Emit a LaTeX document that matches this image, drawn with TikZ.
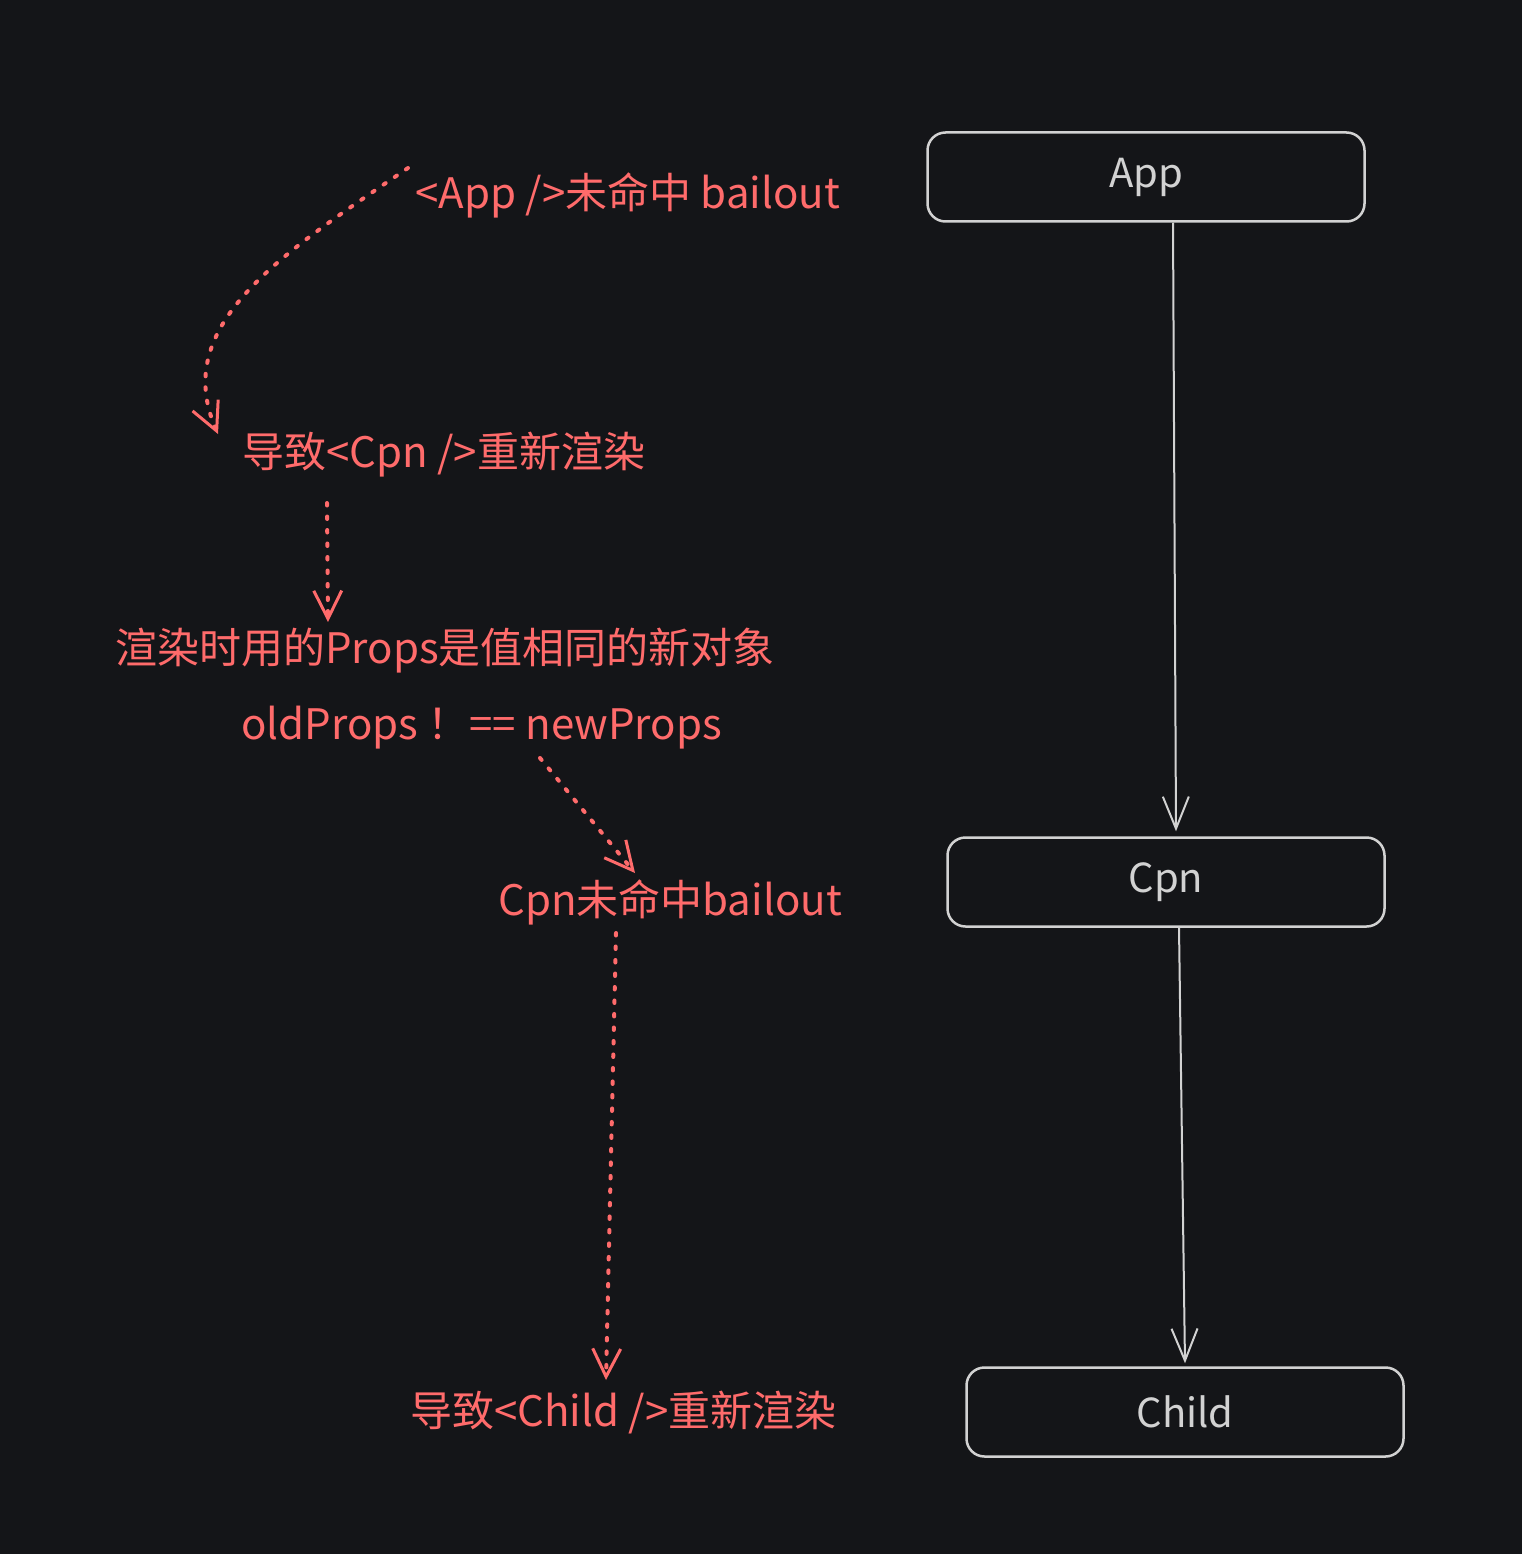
\documentclass[tikz,border=0pt]{standalone}
\usepackage{fontspec}
\setmainfont{Noto Sans CJK SC}
\usetikzlibrary{
    positioning,
    calc,
    arrows.meta
}
\definecolor{bgdark}{HTML}{141518}
\definecolor{notered}{HTML}{FF6B6B}
\definecolor{boxline}{HTML}{D2D2D2}
\tikzset{
  block/.style = {
      draw=boxline,
      line width=2.5pt,
      rounded corners=18pt,
      minimum width=437pt,
      minimum height=89pt,
      text=boxline,
      font=\fontsize{40}{46}\selectfont
  },
  note/.style = {
      text=notered,
      inner sep=0pt,
      anchor=west,
      font=\fontsize{42}{48}\selectfont
  },
  link/.style = {
      draw=boxline,
      line width=2pt,
      -{Straight Barb[length=32pt,width=26pt,line width=2pt]}
  },
  hint/.style = {
      draw=notered,
      line width=4pt,
      line cap=round,
      dash pattern=on 2.5pt off 11pt,
      -{Straight Barb[length=28pt,width=28pt,line width=3pt]}
  }
}
\begin{document}
\begin{tikzpicture}[x=1pt,y=-1pt]
    \fill[bgdark] (0,0) rectangle (1522,1554);
    \useasboundingbox (0,0) rectangle (1522,1554);
    % Tree
    \node[block] (App) at (1146,177) {App};
    \node[block] (Cpn) at (1166,882) {Cpn};
    \node[block] (Child) at (1185,1412) {Child};
    \draw[link] ([xshift=27pt]App.south) -- ([xshift=10pt,yshift=5pt]Cpn.north);
    \draw[link] ([xshift=13pt]Cpn.south) -- ([yshift=3pt]Child.north);
    % Notes
    \node[note] (appmiss) at (415,195) {<App />未命中 bailout};
    \node[note] (cpnrender) at (242,455) {导致<Cpn />重新渲染};
    \node[note] (sameprops) at (115,651) {渲染时用的Props是值相同的新对象};
    \node[note] (notequal) at (241,728) {oldProps ！== newProps};
    \node[note] (cpnmiss) at (498,902) {Cpn未命中bailout};
    \node[note] (childrender) at (410,1413) {导致<Child />重新渲染};
    % Dotted arrows
    \draw[hint] ($(appmiss.west)+(-7,-27)$)
        .. controls (280,255) and (170,325) .. ($(cpnrender.west)+(-24,-21)$);
    \draw[hint] ($(cpnrender.west)+(85,48)$) -- ($(sameprops.west)+(213,-29)$);
    \draw[hint] ($(notequal.west)+(299,30)$) -- ($(cpnmiss.west)+(137,-29)$);
    \draw[hint] ($(cpnmiss.west)+(118,31)$) -- ($(childrender.west)+(196,-33)$);
\end{tikzpicture}
\end{document}
